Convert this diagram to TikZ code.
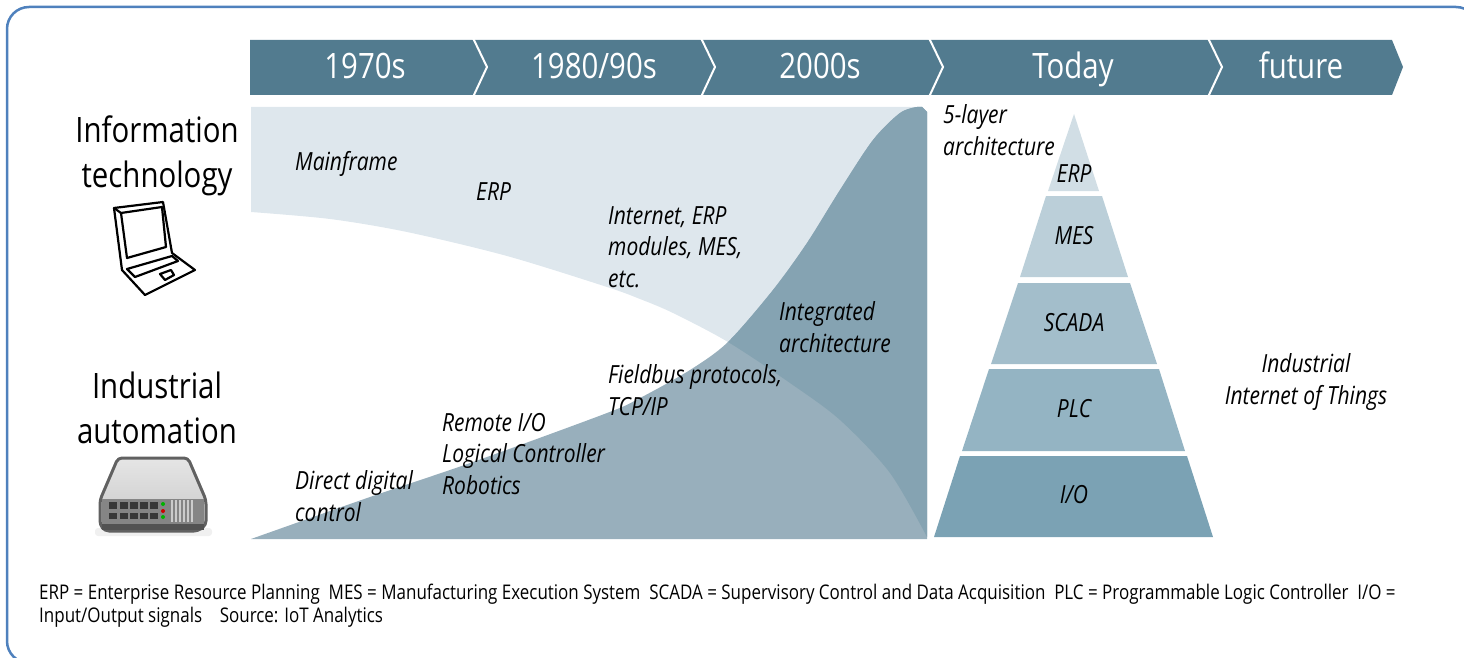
\documentclass[tikz,border=0pt]{standalone}
\usepackage{fontspec}
\setmainfont[FakeStretch=0.84]{Open Sans}
\definecolor{framecol}{HTML}{4F81BD}
\definecolor{bannercol}{HTML}{527B8F}
\definecolor{itcol}{HTML}{DEE7ED}
\definecolor{autocol}{HTML}{98AFBC}
\definecolor{bothcol}{HTML}{85A3B2}
\definecolor{erpcol}{HTML}{D1DEE5}
\definecolor{mescol}{HTML}{BBCFD9}
\definecolor{scadacol}{HTML}{A3BECB}
\definecolor{plccol}{HTML}{94B4C3}
\definecolor{iocol}{HTML}{7BA2B4}
\begin{document}
\begin{tikzpicture}[x=1pt,y=-1pt]
  \tikzstyle{banner text}=[text=white,font=\fontsize{35}{40}\selectfont,anchor=base,inner sep=0pt]
  \tikzstyle{side title}=[align=center,font=\fontsize{35}{45}\selectfont,anchor=center]
  \tikzstyle{era note}=[align=left,anchor=west,inner sep=0pt,font=\fontsize{25}{31.5}\selectfont\itshape]
  \tikzstyle{layer text}=[anchor=center,inner sep=0pt,font=\fontsize{25}{31}\selectfont\itshape]
  \tikzstyle{foot note}=[align=left,anchor=west,inner sep=0pt,font=\fontsize{20.2}{23}\selectfont]
  \tikzstyle{device line}=[line width=2.2pt,line join=round,black]

  \useasboundingbox (0,0) rectangle (1464,658);
  \clip (0,0) rectangle (1464,658);
  \draw [framecol,line width=2.5pt,rounded corners=22pt] (7,7) rectangle (1478,663);

  \fill [bannercol] (250,40) -- (1392,40) -- (1403,67) -- (1392,95) -- (250,95) -- cycle;
  \foreach \x in {473,701,929,1208}
    \draw [white,line width=2pt] (\x,38) -- (\x+14,67) -- (\x,97);
  \node [banner text] (era1) at (365,79) {1970s};
  \node [banner text] (era2) at (594,79) {1980/90s};
  \node [banner text] (era3) at (820,79) {2000s};
  \node [banner text] (era4) at (1073,79) {Today};
  \node [banner text] (era5) at (1301,79) {future};

  \fill [itcol] (251,107) -- (922,107) -- (927,112) -- (927,537)
    -- plot [smooth] coordinates {(927,537) (890,473) (840,420) (790,383) (728,342) (673,313) (640,299) (607,287) (507,256) (407,232) (330,219) (251,212)} -- cycle;
  \fill [autocol] (251,539)
    -- plot [smooth] coordinates {(251,539) (370,497) (473,462) (607,413) (640,398) (690,370) (728,342) (773,290) (807,243) (840,190) (873,140) (900,113) (917,107)}
    -- (922,107) -- (927,112) -- (927,539) -- cycle;
  \begin{scope}
    \clip (251,107) -- (927,107) -- (927,537)
      -- plot [smooth] coordinates {(927,537) (890,473) (840,420) (790,383) (728,342) (673,313) (640,299) (607,287) (507,256) (407,232) (330,219) (251,212)} -- cycle;
    \fill [bothcol] (251,539)
      -- plot [smooth] coordinates {(251,539) (370,497) (473,462) (607,413) (640,398) (690,370) (728,342) (773,290) (807,243) (840,190) (873,140) (900,113) (917,107)}
      -- (922,107) -- (927,112) -- (927,539) -- cycle;
  \end{scope}

  \node [era note] (mainframe) at (295,164) {Mainframe};
  \node [era note] (erpnote) at (476,192) {ERP};
  \node [era note] (internet) at (608,247) {Internet, ERP\\modules, MES,\\etc.};
  \node [era note] (integrated) at (779,327) {Integrated\\architecture};
  \node [era note] (fieldbus) at (608,390) {Fieldbus protocols,\\TCP/IP};
  \node [era note] (remote) at (442,454) {Remote I/O\\Logical Controller\\Robotics};
  \node [era note] (direct) at (295,496) {Direct digital\\control};
  \node [era note] (fivelayer) at (943,130) {5-layer\\architecture};
  \node [era note,align=center,anchor=center] (iiot) at (1306,382) {Industrial\\Internet of Things};

  \fill [erpcol] (1074,114) -- (1099,191) -- (1048,191) -- cycle;
  \fill [mescol] (1046,196) -- (1102,196) -- (1128,277) -- (1020,277) -- cycle;
  \fill [scadacol] (1018,283) -- (1130,283) -- (1157,364) -- (991,364) -- cycle;
  \fill [plccol] (989,369) -- (1159,369) -- (1185,451) -- (962,451) -- cycle;
  \fill [iocol] (960,456) -- (1187,456) -- (1213,537) -- (934,537) -- cycle;
  \node [layer text] (erp) at (1074,174) {ERP};
  \node [layer text] (mes) at (1074,236) {MES};
  \node [layer text] (scada) at (1074,323) {SCADA};
  \node [layer text] (plc) at (1074,409) {PLC};
  \node [layer text] (io) at (1074,495) {I/O};

  \node [side title] (infotech) at (157,156) {Information\\technology};
  \node [side title] (indauto) at (157,408) {Industrial\\automation};

  \draw [device line] (114,208) -- (163,202) -- (172,253) -- (195,270) -- (145,295) -- (122,270) -- cycle;
  \draw [device line] (121,213) -- (162,207) -- (166,247) -- (127,258) -- cycle;
  \draw [device line] (114,208) -- (121,213);
  \draw [device line] (127,269) -- (172,256) -- (178,261) -- (135,277) -- cycle;
  \draw [device line] (160,274) -- (171,270) -- (174,275) -- (165,280) -- cycle;

  \fill [black!6,rounded corners=3pt] (95,528) rectangle (212,536);
  \draw [black!62,line width=3pt,line join=round,rounded corners=4pt,top color=black!10,bottom color=black!22]
    (118,458) -- (188,458) -- (206,500) -- (206,525) -- (198,531) -- (105,531) -- (100,525) -- (100,500) -- cycle;
  \fill [black!48] (102,499) rectangle (204,524);
  \fill [black!68] (102,524) rectangle (204,530);
  \foreach \x in {109,119.5,130,140,149.5} {
    \fill [black!78] (\x,502) rectangle (\x+8,509);
    \fill [black!78] (\x,513) rectangle (\x+8,519);
  }
  \fill [green!70!black] (163,504) circle (2pt);
  \fill [red!80!black] (163,511) circle (2pt);
  \fill [green!70!black] (163,517) circle (2pt);
  \foreach \x in {172,176,...,192}
    \draw [black!20,line width=1.2pt] (\x,500) -- (\x,522);

  \node [foot note] (legend) at (39,605.5) {ERP = Enterprise Resource Planning~ MES = Manufacturing Execution System~ SCADA = Supervisory Control and Data Acquisition~ PLC = Programmable Logic Controller~ I/O =\\Input/Output signals~~~ Source: IoT Analytics};
\end{tikzpicture}
\end{document}
